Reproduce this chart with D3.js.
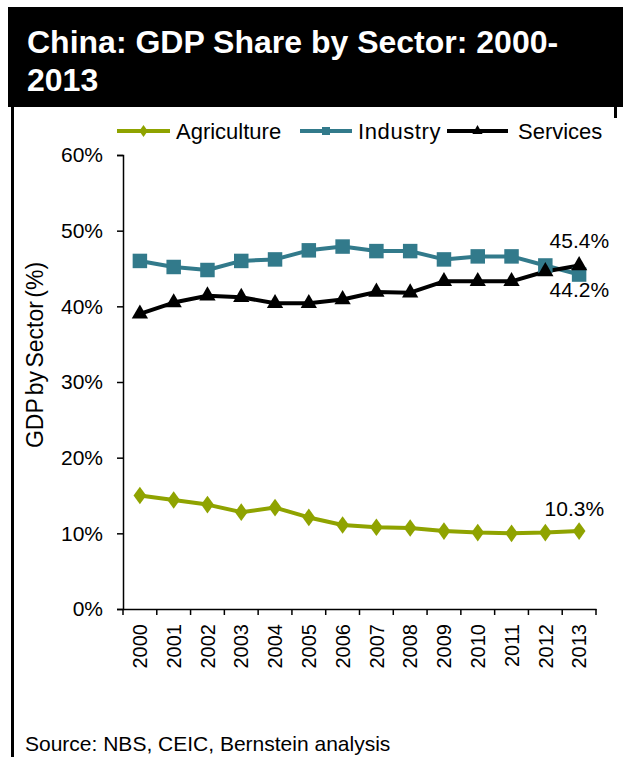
<!DOCTYPE html>
<html>
<head>
<meta charset="utf-8">
<script src="https://cdn.jsdelivr.net/npm/d3@7/dist/d3.min.js"></script>
<style>
  html, body { margin: 0; padding: 0; background: #fff; }
  svg { display: block; }
  text { font-family: "Liberation Sans", Arial, sans-serif; fill: #000; }
</style>
</head>
<body>
<svg id="chart" width="623" height="757"></svg>
<script>
// ---- data ----
const years = ["2000","2001","2002","2003","2004","2005","2006","2007","2008","2009","2010","2011","2012","2013"];
const agriculture = [15.0, 14.4, 13.8, 12.8, 13.4, 12.1, 11.1, 10.8, 10.7, 10.3, 10.1, 10.0, 10.1, 10.3];
const industry    = [46.0, 45.2, 44.8, 46.0, 46.2, 47.4, 47.9, 47.3, 47.3, 46.2, 46.6, 46.6, 45.4, 44.2];
const services    = [39.0, 40.5, 41.4, 41.2, 40.4, 40.4, 40.9, 41.9, 41.8, 43.3, 43.3, 43.3, 44.6, 45.4];
const yTicks = [0, 10, 20, 30, 40, 50, 60];
const seriesNames = ["Agriculture", "Industry", "Services"];
const annotations = [
  { year: "2013", value: 45.4, text: "45.4%" },
  { year: "2013", value: 44.2, text: "44.2%" },
  { year: "2013", value: 10.3, text: "10.3%" }
];
const titleLines = ["China: GDP Share by Sector: 2000-", "2013"];
const yTitle = "GDP by Sector (%)";
const sourceText = "Source: NBS, CEIC, Bernstein analysis";

// ---- styles ----
const colors = { Agriculture: "#8fa300", Industry: "#327a8b", Services: "#000000" };
const svg = d3.select("#chart");

// frame / title block
svg.append("rect").attr("x", 8).attr("y", 7).attr("width", 615).attr("height", 100).attr("fill", "#000");
svg.append("rect").attr("x", 11).attr("y", 100).attr("width", 3).attr("height", 657).attr("fill", "#000");
svg.append("rect").attr("x", 614).attr("y", 100).attr("width", 3).attr("height", 18).attr("fill", "#000");
svg.selectAll("text.title").data(titleLines).enter().append("text")
  .attr("class", "title")
  .attr("x", 27).attr("y", (d, i) => 53 + i * 38)
  .style("fill", "#fff").style("font-weight", "bold").style("font-size", "32px")
  .text(d => d);

// scales
const x = d3.scaleBand().domain(years).range([123, 596]).padding(0);
const y = d3.scaleLinear().domain([0, 60]).range([609, 155]);
const cx = d => x(d) + x.bandwidth() / 2;

// y axis
const yAxis = svg.append("g").attr("transform", "translate(123,0)")
  .call(d3.axisLeft(y).tickValues(yTicks).tickFormat(d => d + "%").tickSize(6).tickPadding(14));
yAxis.select(".domain").attr("stroke", "#000").attr("stroke-width", 1.5);
yAxis.selectAll(".tick line").attr("stroke", "#000").attr("stroke-width", 1.5);
yAxis.selectAll(".tick text").style("font-size", "21px").style("font-family", "Liberation Sans, Arial, sans-serif").attr("fill", "#000");

// x axis
const xAxis = svg.append("g").attr("transform", "translate(0,609)")
  .call(d3.axisBottom(x).tickSize(0).tickSizeOuter(0));
xAxis.select(".domain").attr("stroke", "#000").attr("stroke-width", 1.5);
xAxis.selectAll(".tick line").remove();
xAxis.selectAll(".tick text")
  .style("font-size", "20px").style("font-family", "Liberation Sans, Arial, sans-serif").attr("fill", "#000")
  .attr("text-anchor", "end")
  .attr("transform", "rotate(-90)")
  .attr("x", -15).attr("y", 0).attr("dy", "0.36em");
// tick marks between categories
const boundaries = years.map(d => x(d)).concat([x(years[years.length - 1]) + x.bandwidth()]);
svg.append("g").selectAll("line").data(boundaries).enter().append("line")
  .attr("x1", d => d).attr("x2", d => d).attr("y1", 609).attr("y2", 615)
  .attr("stroke", "#000").attr("stroke-width", 1.5);

// y axis title
svg.append("text")
  .attr("transform", "translate(43,355) rotate(-90)")
  .attr("text-anchor", "middle")
  .style("font-size", "23px")
  .style("word-spacing", "-3px")
  .text(yTitle);

// series
const data = [
  { name: "Agriculture", values: agriculture, marker: "diamond" },
  { name: "Industry", values: industry, marker: "square" },
  { name: "Services", values: services, marker: "triangle" }
];
const symbolFor = {
  diamond: d3.symbol().type(d3.symbolDiamond).size(90),
  square: d3.symbol().type(d3.symbolSquare).size(210),
  triangle: d3.symbol().type(d3.symbolTriangle).size(115)
};
const line = d3.line().x((d, i) => cx(years[i])).y(d => y(d));
data.forEach(s => {
  svg.append("path").datum(s.values)
    .attr("d", line).attr("fill", "none")
    .attr("stroke", colors[s.name]).attr("stroke-width", 4).attr("stroke-linejoin", "round");
});
data.forEach(s => {
  svg.append("g").selectAll("path").data(s.values).enter().append("path")
    .attr("d", symbolFor[s.marker])
    .attr("transform", (d, i) => `translate(${cx(years[i])},${y(d)})` + (s.marker === "diamond" ? " scale(1.25,1)" : ""))
    .attr("fill", colors[s.name]);
});

// annotations
const annoOffsets = { "45.4%": { dx: 30, y: 248 }, "44.2%": { dx: 30, y: 297 }, "10.3%": { dx: 25, y: 516 } };
svg.append("g").selectAll("text").data(annotations).enter().append("text")
  .attr("x", d => cx(d.year) + annoOffsets[d.text].dx)
  .attr("y", d => annoOffsets[d.text].y)
  .attr("text-anchor", "end")
  .style("font-size", "21px")
  .text(d => d.text);

// legend
const legendItems = [
  { name: "Agriculture", x1: 117, x2: 170, tx: 176, marker: "diamond" },
  { name: "Industry", x1: 300, x2: 352, tx: 358, marker: "square" },
  { name: "Services", x1: 447, x2: 508, tx: 518, marker: "triangle" }
];
const legSym = {
  diamond: d3.symbol().type(d3.symbolDiamond).size(40),
  square: d3.symbol().type(d3.symbolSquare).size(64),
  triangle: d3.symbol().type(d3.symbolTriangle).size(45)
};
const lg = svg.append("g");
legendItems.forEach(it => {
  lg.append("line").attr("x1", it.x1).attr("x2", it.x2).attr("y1", 131).attr("y2", 131)
    .attr("stroke", colors[it.name]).attr("stroke-width", 4);
  lg.append("path").attr("d", legSym[it.marker])
    .attr("transform", `translate(${(it.x1 + it.x2) / 2},131)` + (it.marker === "diamond" ? " scale(1.25,1)" : ""))
    .attr("fill", colors[it.name]);
  lg.append("text").attr("x", it.tx).attr("y", 138.5)
    .style("font-size", "22px")
    .style("letter-spacing", it.name === "Industry" ? "0.6px" : "0px")
    .text(it.name);
});

// source
svg.append("text").attr("x", 25).attr("y", 751).style("font-size", "21px").text(sourceText);
</script>
</body>
</html>
